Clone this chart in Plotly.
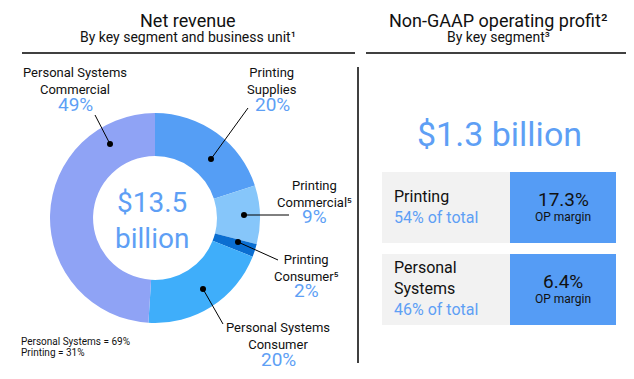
import plotly.graph_objects as go

W, H = 634, 379
PAGE_OFFSET = 8  # default body margin of the html page

# ---- data ----
segments = ["Printing Supplies", "Printing Commercial", "Printing Consumer",
            "Personal Systems Consumer", "Personal Systems Commercial"]
seg_labels = ["Printing<br>Supplies", "Printing<br>Commercial⁵",
              "Printing<br>Consumer⁵", "Personal Systems<br>Consumer",
              "Personal Systems<br>Commercial"]
shares = [20, 9, 2, 20, 49]
seg_colors = ["#559EF5", "#86C6FA", "#0A6ED1", "#3FAEFA", "#8FA3F5"]
total_revenue = "$13.5<br>billion"
group_notes = ["Personal Systems = 69%", "Printing = 31%"]

op_total = "$1.3 billion"
op_segments = ["Printing", "Personal<br>Systems"]
op_share = [54, 46]
op_margin = [17.3, 6.4]

FONT = "Roboto"
BLUE_TXT = "#5E9FF5"


def px(x):
    return (x - PAGE_OFFSET) / W


def py(y):
    return 1 - (y - PAGE_OFFSET) / H


fig = go.Figure()

# donut: center (155,218), outer radius 105
cx, cy, R = 155, 218, 105
fig.add_trace(go.Pie(
    labels=segments, values=shares, sort=False, direction="clockwise",
    rotation=0, hole=0.59, marker=dict(colors=seg_colors, line=dict(width=0)),
    textinfo="none", hoverinfo="label+percent", showlegend=False,
    domain=dict(x=[px(cx - R), px(cx + R)], y=[py(cy + R), py(cy - R)]),
))

ann = []
shapes = []


def text(x, y, s, size, color="#111", xanchor="center", align="center"):
    ann.append(dict(x=px(x), y=py(y), xref="paper", yref="paper", text=s,
                    showarrow=False, xanchor=xanchor, yanchor="middle", align=align,
                    font=dict(family=FONT, size=size, color=color)))


def line(x0, y0, x1, y1, w=1, color="#000"):
    shapes.append(dict(type="line", xref="paper", yref="paper",
                       x0=px(x0), y0=py(y0), x1=px(x1), y1=py(y1),
                       line=dict(color=color, width=w)))


def dot(x, y, r=3):
    shapes.append(dict(type="circle", xref="paper", yref="paper",
                       x0=px(x - r), y0=py(y - r), x1=px(x + r), y1=py(y + r),
                       fillcolor="#000", line=dict(width=0)))


def rect(x0, y0, x1, y1, color):
    shapes.append(dict(type="rect", xref="paper", yref="paper",
                       x0=px(x0), y0=py(y0), x1=px(x1), y1=py(y1),
                       fillcolor=color, line=dict(width=0), layer="below"))


# titles
text(188, 20, "Net revenue", 18)
text(188, 37, "By key segment and business unit¹", 14)
line(22, 53, 355, 53, 1.5)
text(498, 20, "Non-GAAP operating profit²", 18)
text(498, 37, "By key segment³", 14)
line(366, 53, 629, 53, 1.5)
line(358, 67, 358, 363, 1.5)

# centre text
text(152, 220, total_revenue, 28, BLUE_TXT)

# segment labels (label position, percent position, dot, leader end)
label_pos = {
    "Printing Supplies": ((272, 81), (272, 104), (211, 159), (248, 108)),
    "Printing Commercial": ((314, 194), (314, 216), (244, 215), (289, 215)),
    "Printing Consumer": ((306, 268), (306, 290), (238, 242), (278, 260)),
    "Personal Systems Consumer": ((278, 336), (278, 359), (203, 289), (223, 324)),
    "Personal Systems Commercial": ((75, 81), (75, 104), (110, 144), (95, 115)),
}
for name, lab, v in zip(segments, seg_labels, shares):
    (lx, ly), (qx, qy), (dx, dy), (ex, ey) = label_pos[name]
    text(lx, ly, lab, 13)
    text(qx, qy, f"{v}%", 19, BLUE_TXT)
    line(dx, dy, ex, ey, 1)
    dot(dx, dy)

text(19, 341, group_notes[0], 10, xanchor="left", align="left")
text(19, 352, group_notes[1], 10, xanchor="left", align="left")

# right panel
text(500, 134, op_total, 34, BLUE_TXT)
box_y = [(172, 243), (254, 325)]
for (y0, y1), seg, sh, m in zip(box_y, op_segments, op_share, op_margin):
    rect(382, y0, 510, y1, "#F2F2F2")
    rect(510, y0, 616, y1, "#559CF5")
    mid = (y0 + y1) / 2
    text(392, mid - 1, f"{seg}<br><span style='color:{BLUE_TXT}'>{sh}% of total</span>",
         16, xanchor="left", align="left")
    text(563, mid - 8, f"{m}%", 19)
    text(563, mid + 9, "OP margin", 12)

fig.update_layout(width=W, height=H, margin=dict(l=0, r=0, t=0, b=0),
                  paper_bgcolor="white", plot_bgcolor="white",
                  annotations=ann, shapes=shapes)
fig.write_html("out.html")
